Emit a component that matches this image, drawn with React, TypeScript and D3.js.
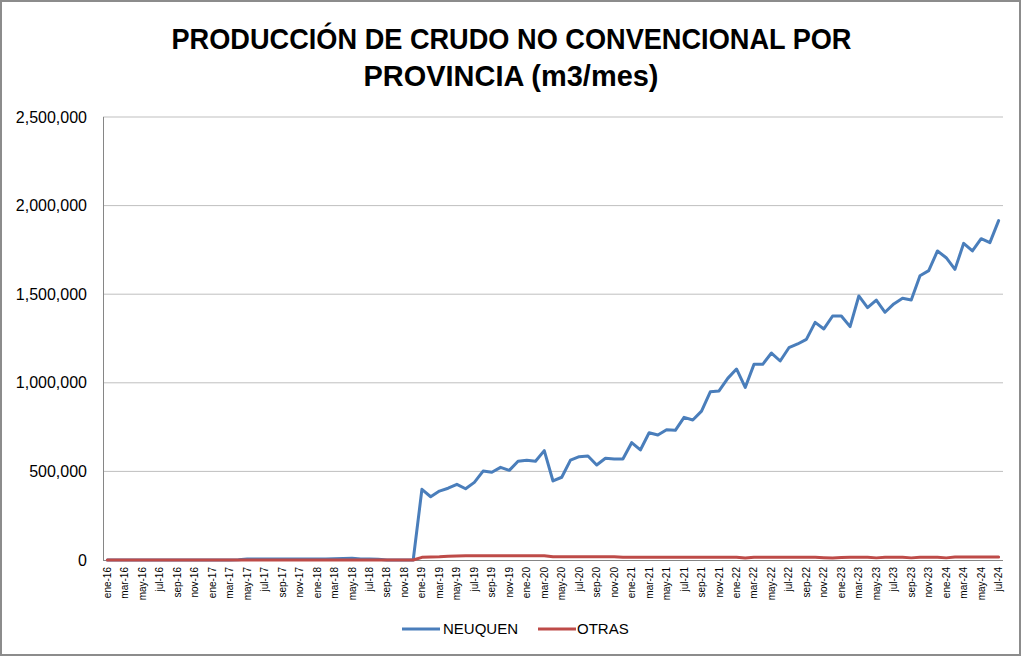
import React from "react";
import * as d3 from "d3";

const MONTHS = ["ene", "feb", "mar", "abr", "may", "jun", "jul", "ago", "sep", "oct", "nov", "dic"];
const YEARS = ["16", "17", "18", "19", "20", "21", "22", "23", "24"];
const N_POINTS = 103; // ene-16 .. jul-24

const NEUQUEN = [
  0, 0, 0, 0, 0, 0, 0, 0, 0, 0, 0, 0,
  0, 0, 0, 1000, 5000, 5000, 6000, 5000, 5000, 6000, 6000, 5000,
  6000, 6000, 7000, 8000, 10000, 6000, 5000, 4000, 0, 0, 0, 0,
  399000, 357000, 389000, 405000, 427000, 402000, 438000, 502000, 495000, 523000, 506000, 557000,
  563000, 557000, 617000, 446000, 467000, 564000, 583000, 587000, 536000, 574000, 570000, 570000,
  662000, 621000, 718000, 705000, 735000, 732000, 805000, 790000, 840000, 949000, 954000, 1025000,
  1078000, 974000, 1104000, 1104000, 1168000, 1123000, 1198000, 1219000, 1245000, 1341000, 1304000, 1377000,
  1377000, 1317000, 1490000, 1424000, 1467000, 1398000, 1445000, 1477000, 1467000, 1604000, 1633000, 1744000,
  1706000, 1640000, 1787000, 1744000, 1813000, 1791000, 1915000,
];

const OTRAS = [
  0, 0, 0, 0, 0, 0, 0, 0, 0, 0, 0, 0,
  0, 0, 0, 0, 0, 0, 0, 0, 0, 0, 0, 0,
  0, 0, 0, 0, 0, 0, 0, 0, 0, 0, 0, 0,
  15000, 17000, 18000, 21000, 23000, 24000, 24000, 24000, 24000, 24000, 24000, 24000,
  24000, 24000, 24000, 18000, 19000, 19000, 19000, 19000, 19000, 19000, 19000, 15000,
  16000, 16000, 16000, 16000, 16000, 16000, 16000, 16000, 16000, 16000, 16000, 16000,
  16000, 11000, 16000, 16000, 16000, 16000, 16000, 16000, 16000, 16000, 13000, 11000,
  14000, 16000, 16000, 16000, 12000, 16000, 16000, 16000, 12000, 16000, 16000, 16000,
  12000, 17000, 17000, 17000, 17000, 17000, 17000,
];

const Y_TICKS = [0, 500000, 1000000, 1500000, 2000000, 2500000];
const TITLE_LINES = ["PRODUCCIÓN DE CRUDO NO CONVENCIONAL POR", "PROVINCIA (m3/mes)"];
const SERIES_NAMES = ["NEUQUEN", "OTRAS"];
const SERIES_COLORS = ["#4A7EBB", "#BE4B48"];

const CATEGORIES: string[] = [];
for (let i = 0; i < N_POINTS; i++) {
  CATEGORIES.push(`${MONTHS[i % 12]}-${YEARS[Math.floor(i / 12)]}`);
}

const W = 1023;
const H = 657;
const PLOT = { left: 103, right: 1003, top: 117, bottom: 560 };
const FONT = "'Liberation Sans', Arial, sans-serif";

export default function App() {
  const x = d3.scalePoint<string>().domain(CATEGORIES).range([PLOT.left, PLOT.right]).padding(0.5);
  const y = d3.scaleLinear().domain([0, 2500000]).range([PLOT.bottom, PLOT.top]);
  const fmt = d3.format(",");
  const line = d3
    .line<number>()
    .x((_, i) => x(CATEGORIES[i]) as number)
    .y((d) => y(d));

  const series = [NEUQUEN, OTRAS];
  const legendItems = [
    { lineX: 402, textX: 443 },
    { lineX: 538, textX: 577 },
  ];

  return (
    <svg
      width={W}
      height={H}
      style={{ position: "absolute", left: 0, top: 0, background: "#fff" }}
      fontFamily={FONT}
    >
      <rect x={0} y={0} width={W} height={H} fill="#fff" />
      <rect x={1} y={1} width={W - 4} height={H - 3} fill="none" stroke="#8c8c8c" strokeWidth={2} />

      {/* title */}
      <text
        x={W / 2 - 0}
        y={49}
        textAnchor="middle"
        fontFamily="'Liberation Sans Narrow', 'Liberation Sans', Arial, sans-serif"
        fontWeight="bold"
        fontSize={30}
        textLength={680}
        lengthAdjust="spacingAndGlyphs"
        fill="#000"
      >
        {TITLE_LINES[0]}
      </text>
      <text
        x={511}
        y={86}
        textAnchor="middle"
        fontFamily="'Liberation Sans Narrow', 'Liberation Sans', Arial, sans-serif"
        fontWeight="bold"
        fontSize={30}
        textLength={295}
        lengthAdjust="spacingAndGlyphs"
        fill="#000"
      >
        {TITLE_LINES[1]}
      </text>

      {/* gridlines */}
      {Y_TICKS.filter((t) => t > 0).map((t) => (
        <line key={t} x1={PLOT.left} x2={PLOT.right} y1={y(t)} y2={y(t)} stroke="#BFBFBF" strokeWidth={1} />
      ))}

      {/* axes */}
      <line x1={PLOT.left + 0.5} x2={PLOT.left + 0.5} y1={PLOT.top} y2={PLOT.bottom} stroke="#868686" strokeWidth={1} />
      <line x1={PLOT.left} x2={PLOT.right} y1={PLOT.bottom + 0.5} y2={PLOT.bottom + 0.5} stroke="#868686" strokeWidth={1} />

      {/* y tick labels */}
      {Y_TICKS.map((t) => (
        <text key={t} x={87} y={y(t)} dy="0.35em" textAnchor="end" fontSize={16} fill="#000">
          {fmt(t)}
        </text>
      ))}

      {/* x tick labels */}
      {CATEGORIES.filter((_, i) => i % 2 === 0).map((c) => {
        const cx = x(c) as number;
        return (
          <text
            key={c}
            transform={`translate(${cx + 3.5},${567}) rotate(-90)`}
            textAnchor="end"
            fontSize={10}
            fill="#000"
          >
            {c}
          </text>
        );
      })}

      {/* series */}
      {series.map((s, k) => (
        <path
          key={k}
          d={line(s) || ""}
          fill="none"
          stroke={SERIES_COLORS[k]}
          strokeWidth={3}
          strokeLinejoin="round"
          strokeLinecap="round"
        />
      ))}

      {/* legend */}
      {SERIES_NAMES.map((name, k) => (
        <g key={name}>
          <line
            x1={legendItems[k].lineX}
            x2={legendItems[k].lineX + 38}
            y1={629}
            y2={629}
            stroke={SERIES_COLORS[k]}
            strokeWidth={3}
          />
          <text x={legendItems[k].textX} y={629} dy="0.35em" fontSize={15} fill="#000">
            {name}
          </text>
        </g>
      ))}
    </svg>
  );
}
